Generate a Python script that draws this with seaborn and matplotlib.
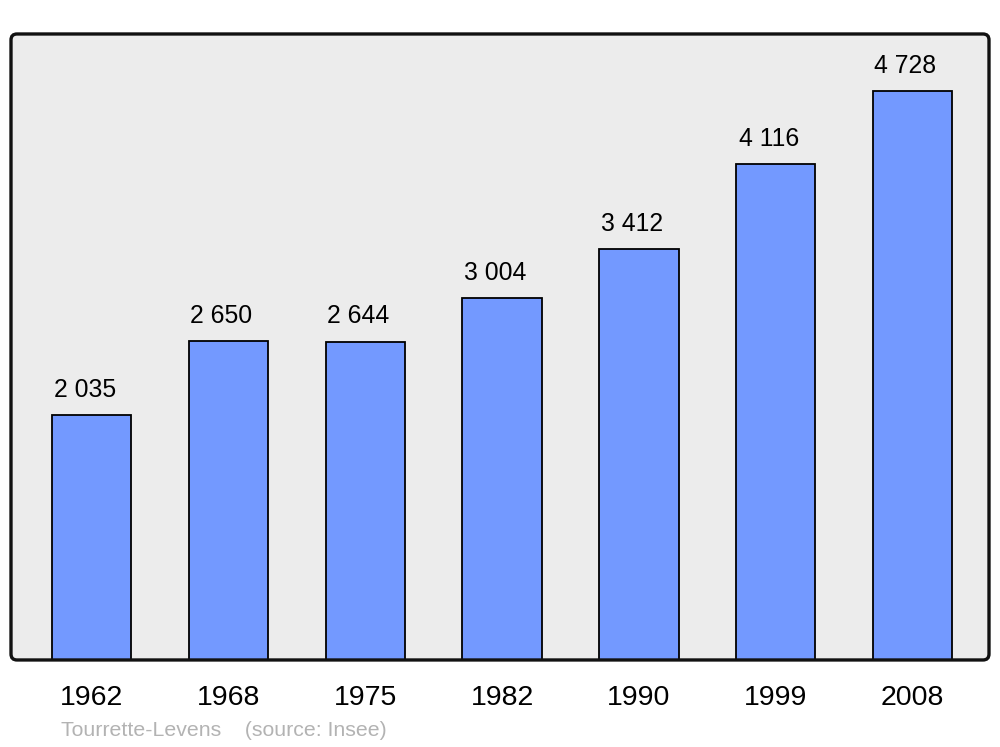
import matplotlib.pyplot as plt
from matplotlib.patches import FancyBboxPatch
import numpy as np
import pandas as pd
import seaborn as sns

years = ['1962', '1968', '1975', '1982', '1990', '1999', '2008']
population = [2035, 2650, 2644, 3004, 3412, 4116, 4728]
labels = ['2 035', '2 650', '2 644', '3 004', '3 412', '4 116', '4 728']
source = 'Tourrette-Levens    (source: Insee)'

sns.set_style('white')
plt.rcParams['font.family'] = ['Liberation Sans', 'DejaVu Sans']

fig = plt.figure(figsize=(10, 7.47), dpi=100)
ax = fig.add_axes([0.011, 0.1165, 0.978, 0.838])
ax.patch.set_visible(False)
for s in ax.spines.values():
    s.set_visible(False)

# rounded background and frame, in figure coordinates
box = dict(boxstyle='round,pad=0,rounding_size=0.006', mutation_aspect=1000 / 747,
           transform=fig.transFigure, clip_on=False)
ax.add_patch(FancyBboxPatch((0.011, 0.1165), 0.978, 0.838, facecolor='#ececec',
                            edgecolor='none', zorder=0, **box))
ax.add_patch(FancyBboxPatch((0.011, 0.1165), 0.978, 0.838, facecolor='none',
                            edgecolor='#111111', linewidth=2.4, zorder=5, **box))

df = pd.DataFrame({'year': years, 'pop': population})
sns.barplot(data=df, x='year', y='pop', ax=ax, color='#7399ff', saturation=1,
            width=0.58, edgecolor='black', linewidth=1.3, zorder=2)

for i, (v, lab) in enumerate(zip(population, labels)):
    ax.annotate(lab, (i, v), xytext=(-5, 9.5), textcoords='offset points',
                ha='center', va='bottom', fontsize=17.8, color='black')

ax.set_xlim(-0.59, 6.56)
ax.set_ylim(0, 5200)
ax.set_yticks([])
ax.set_xlabel('')
ax.set_ylabel('')
ax.tick_params(axis='x', length=0, pad=18, labelsize=20.5, colors='black')
for t in ax.get_xticklabels():
    t.set_x(t.get_position()[0])

fig.text(0.061, 1 - 731 / 747, source, fontsize=15.3, color='#b3b3b3', va='center', ha='left')

fig.savefig('out.png', dpi=100)
